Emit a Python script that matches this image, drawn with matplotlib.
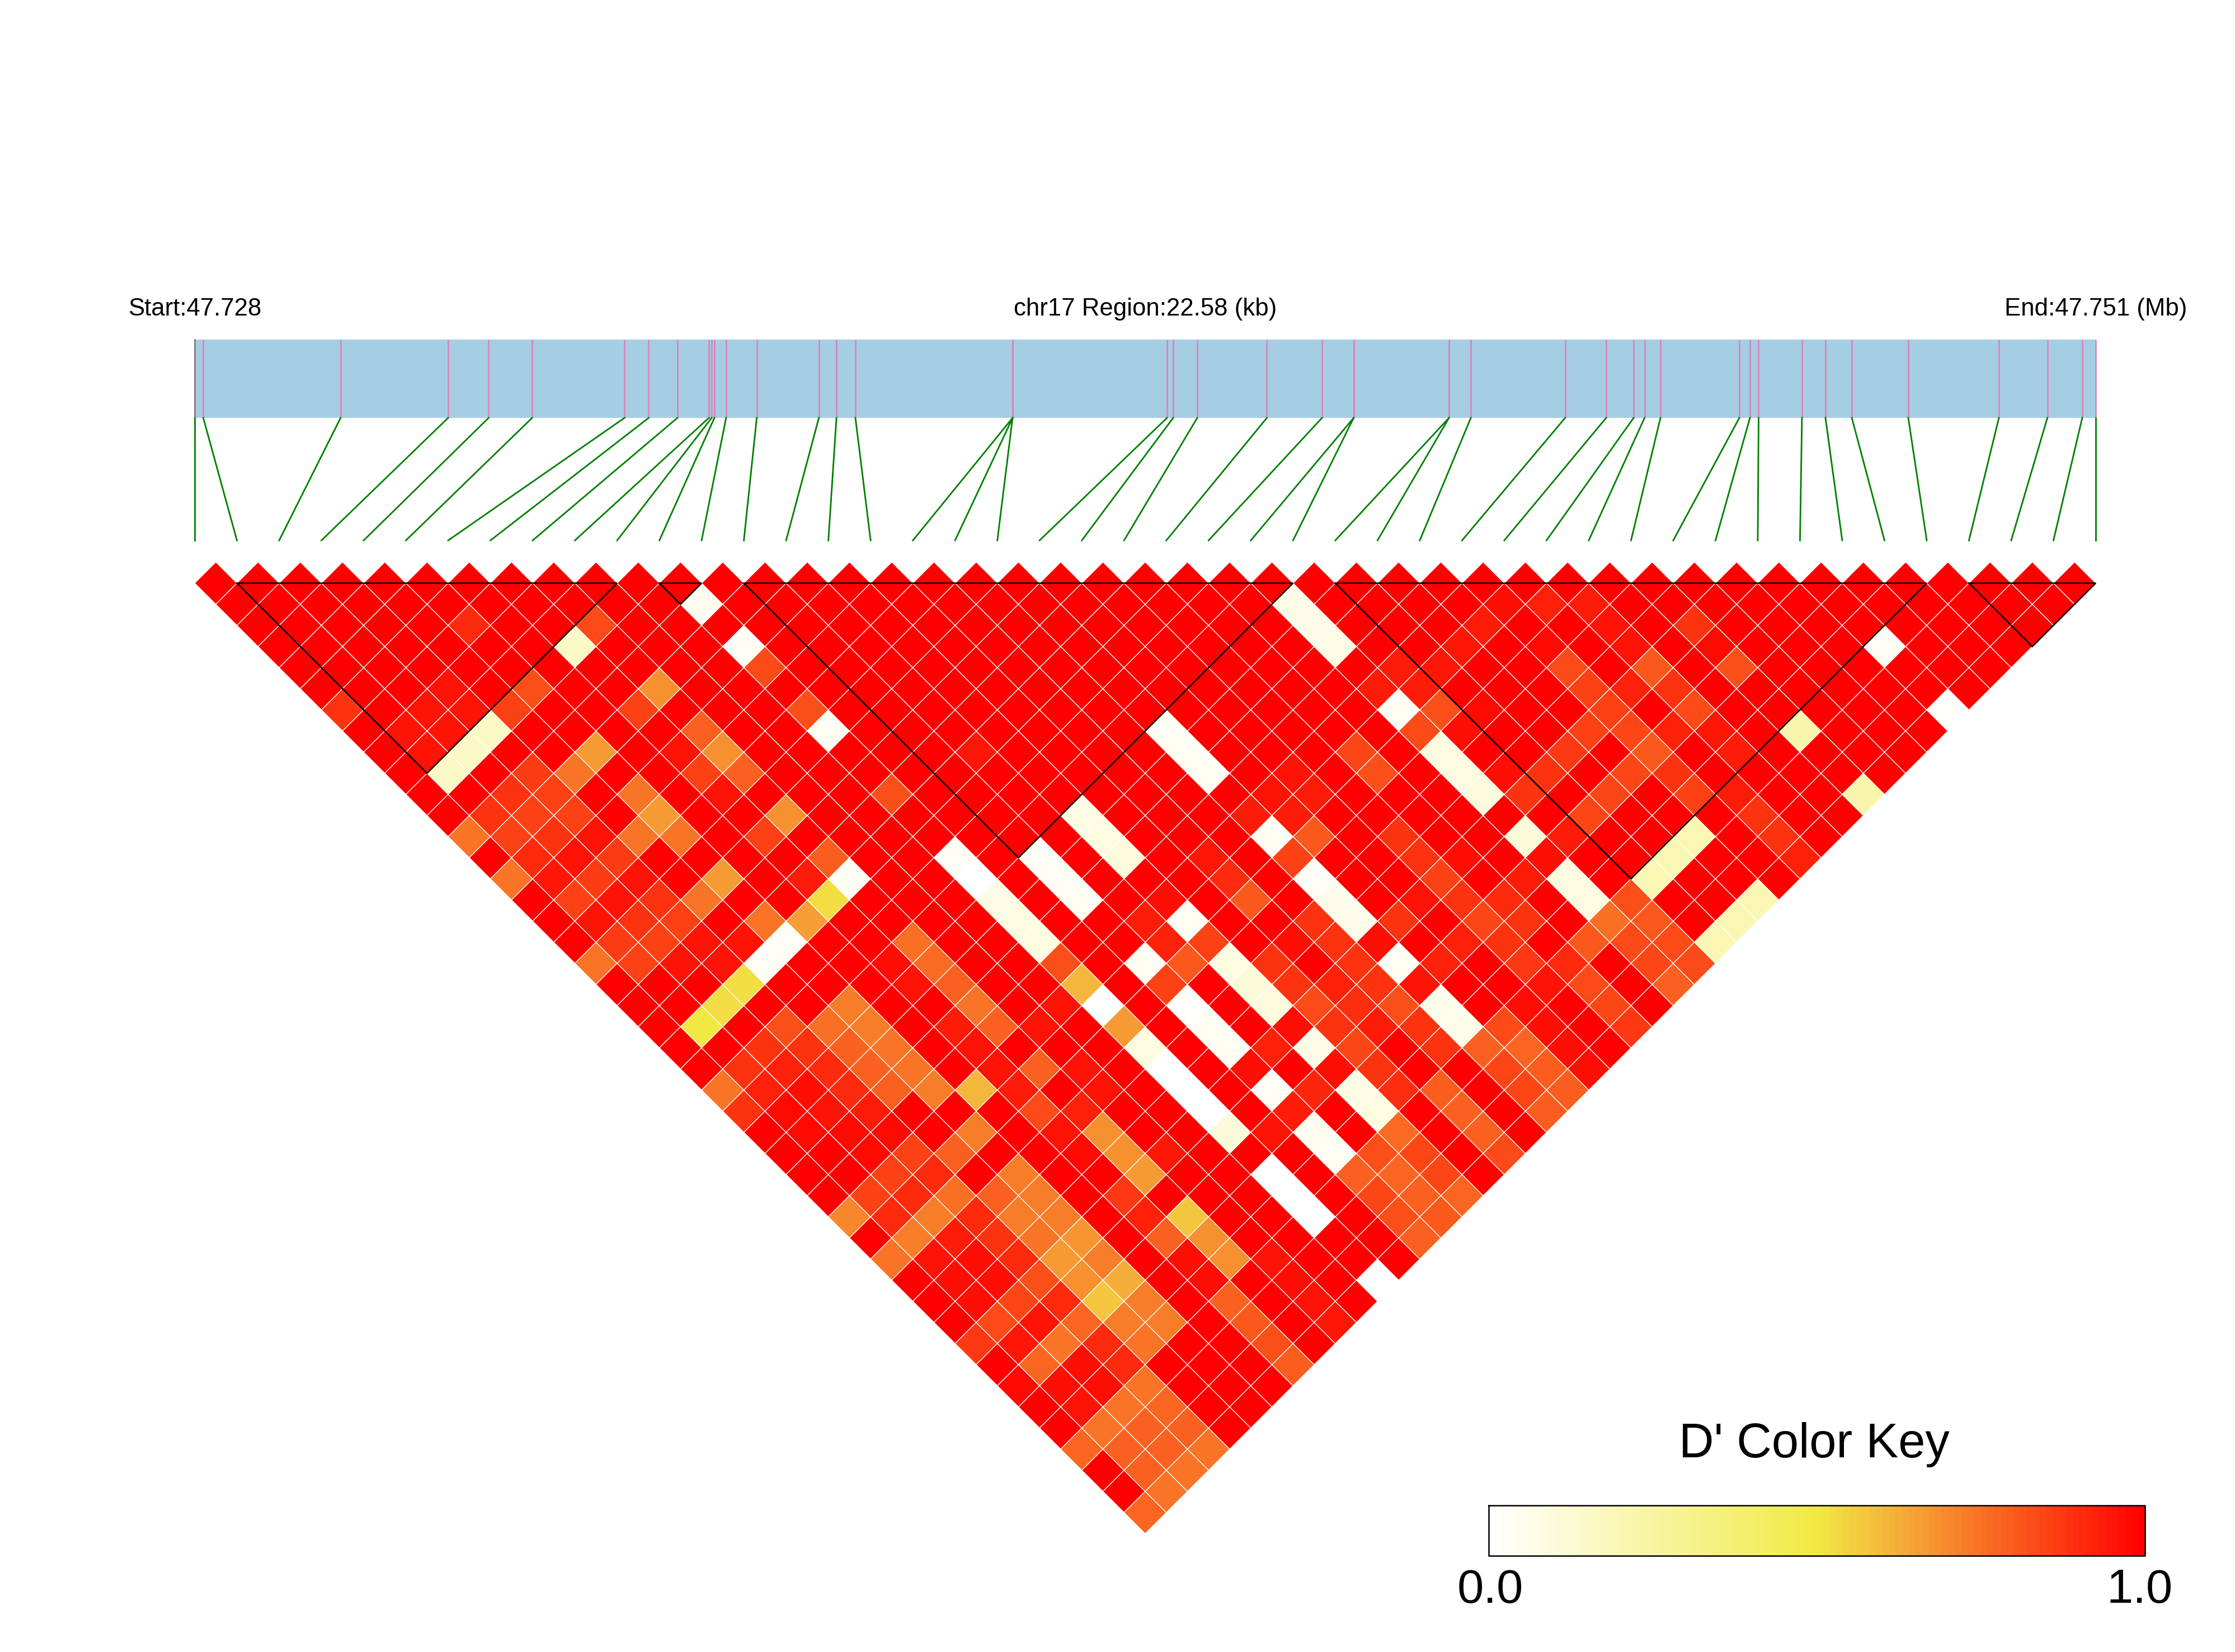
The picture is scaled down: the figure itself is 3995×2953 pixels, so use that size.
import numpy as np
from matplotlib import pyplot as plt
from matplotlib.collections import PolyCollection
from matplotlib.colors import LinearSegmentedColormap

plt.rcParams['font.family'] = ['Liberation Sans', 'DejaVu Sans']

# SNP positions along the region, kb from the start
snp_kb = [0.000, 0.102, 1.733, 3.010, 3.491, 4.008, 5.105, 5.392, 5.733, 6.107,
          6.140, 6.173, 6.312, 6.676, 7.414, 7.623, 7.848, 9.715, 9.715, 9.715,
          11.549, 11.622, 11.908, 12.735, 13.390, 13.766, 13.766, 14.898, 14.898, 15.158,
          16.278, 16.765, 17.091, 17.221, 17.410, 18.347, 18.473, 18.576, 19.091, 19.370,
          19.683, 20.354, 21.430, 22.006, 22.420, 22.580]
region_kb = 22.58

# LD blocks, first and last SNP
blocks = [(1, 10), (11, 12), (13, 26), (27, 41), (42, 45)]

# D' below 1.0 as (snp i, snp j, D'), every other pair is 1.0
upper_left = [
    (5, 8, .90), (8, 11, .83), (7, 11, .15), (11, 13, .04), (11, 15, .02), (11, 16, .83),
    (8, 14, .68), (5, 11, .82), (3, 9, .95), (2, 9, .95), (3, 10, .95), (1, 9, .95),
    (2, 10, .95), (1, 10, .95), (0, 7, .88), (4, 11, .85), (7, 14, .85), (3, 11, .15),
    (2, 11, .15), (1, 11, .15), (8, 16, .78), (7, 16, .95), (8, 17, .68), (5, 14, .66),
    (4, 14, .74), (3, 13, .86), (7, 17, .85), (8, 18, .78), (2, 13, .88), (3, 14, .85),
    (5, 16, .74), (7, 18, .95), (1, 13, .88), (2, 14, .85), (3, 15, .85), (5, 17, .66),
    (8, 20, .68), (0, 13, .74), (1, 14, .85), (2, 15, .88), (3, 16, .95), (4, 17, .74),
    (5, 18, .74), (7, 20, .85), (1, 15, .90), (2, 16, .95), (3, 17, .86), (0, 15, .74),
    (1, 16, .94), (2, 17, .86), (3, 18, .95), (5, 20, .66), (1, 17, .85), (2, 18, .95),
    (3, 19, .88), (4, 20, .74), (5, 22, .74), (1, 18, .95), (2, 19, .88), (3, 20, .85),
    (1, 19, .86), (2, 20, .85), (3, 21, .95), (5, 23, .02), (6, 23, .65),
]
lower_left = [
    (0, 19, .74), (1, 20, .85), (2, 21, .95), (3, 22, .95), (4, 23, .02), (7, 26, .96),
    (8, 27, .76), (11, 30, .82), (13, 32, .03), (4, 22, .95), (8, 26, .75), (11, 29, .08),
    (11, 28, .08), (3, 23, .52), (2, 23, .52), (1, 23, .50), (7, 27, .95), (8, 28, .78),
    (11, 31, .60), (5, 26, .72), (8, 29, .74), (10, 31, .95), (11, 32, .00), (3, 25, .82),
    (4, 26, .75), (5, 27, .72), (7, 29, .93), (8, 30, .78), (9, 31, .95), (11, 33, .66),
    (2, 25, .88), (3, 26, .88), (4, 27, .78), (5, 28, .74), (7, 30, .95), (1, 25, .88),
    (2, 26, .92), (3, 27, .90), (4, 28, .78), (5, 29, .74), (7, 31, .95), (8, 32, .78),
    (9, 33, .95), (11, 35, .00), (0, 25, .74), (1, 26, .92), (2, 27, .96), (3, 28, .90),
    (4, 29, .78), (5, 30, .72), (6, 31, .60), (7, 32, .93), (9, 34, .95), (0, 26, .88),
    (1, 27, .97), (2, 28, .95), (3, 29, .93), (7, 33, .83), (8, 34, .92), (1, 28, .97),
    (2, 29, .97), (3, 30, .97), (5, 32, .72), (7, 34, .95), (8, 35, .68), (2, 30, .97),
    (3, 31, .85), (4, 32, .78), (7, 35, .97), (8, 36, .68), (9, 37, .94), (2, 31, .85),
    (3, 32, .90), (5, 34, .72), (8, 37, .66), (1, 31, .85), (2, 32, .90), (3, 33, .75),
    (4, 34, .78), (5, 35, .72), (7, 37, .87), (0, 31, .70), (1, 32, .90), (2, 33, .72),
    (3, 34, .90), (4, 35, .72), (5, 36, .72), (7, 38, .92), (8, 39, .58),
]
bottom_tip = [
    (0, 45, .77), (1, 45, .74), (1, 44, .78), (2, 45, .74), (0, 42, .77), (1, 43, .78),
    (2, 44, .78), (3, 45, .74), (1, 42, .74), (2, 43, .78), (3, 44, .78), (1, 41, .95),
    (2, 42, .74), (3, 43, .77), (0, 39, .97), (1, 40, .96), (2, 41, .96), (3, 42, .74),
    (1, 39, .77), (2, 40, .96), (3, 41, .90), (7, 45, .79), (0, 37, .87), (1, 38, .94),
    (2, 39, .74), (3, 40, .90), (4, 41, .74), (7, 44, .82), (1, 37, .83), (2, 38, .95),
    (3, 39, .77), (4, 40, .72), (5, 41, .72), (7, 43, .80), (9, 45, .94), (1, 36, .96),
    (2, 37, .84), (3, 38, .90), (4, 39, .58), (5, 40, .72), (7, 42, .78), (9, 44, .95),
    (1, 35, .96), (2, 36, .96), (3, 37, .82), (4, 38, .68), (5, 39, .62), (7, 41, .96),
    (9, 43, .96), (0, 33, .74), (1, 34, .95), (2, 35, .96), (3, 36, .90), (4, 37, .66),
    (5, 38, .72), (7, 40, .96), (8, 41, .68), (9, 42, .95), (1, 33, .72), (2, 34, .93),
    (3, 35, .88), (4, 36, .74), (5, 37, .67), (7, 39, .78), (8, 40, .68),
]
lower_right = [
    (14, 32, .92), (15, 33, .85), (18, 36, .88), (19, 37, .96), (21, 39, .92), (22, 40, .88),
    (25, 43, .83), (26, 44, .83), (27, 45, .20), (14, 33, .80), (15, 34, .08), (16, 35, .88),
    (18, 37, .88), (19, 38, .03), (20, 39, .92), (22, 41, .87), (23, 42, .90), (25, 44, .84),
    (26, 45, .83), (13, 33, .85), (15, 35, .10), (16, 36, .88), (17, 37, .92), (18, 38, .88),
    (19, 39, .95), (22, 42, .95), (23, 43, .83), (25, 45, .78), (13, 34, .01), (15, 36, .09),
    (16, 37, .83), (17, 38, .89), (18, 39, .82), (19, 40, .05), (21, 42, .96), (23, 44, .84),
    (13, 35, .03), (15, 37, .96), (16, 38, .88), (17, 39, .93), (18, 40, .88), (19, 41, .05),
    (20, 42, .83), (21, 43, .96), (23, 45, .87), (11, 34, .08), (13, 36, .03), (14, 37, .92),
    (15, 38, .07), (16, 39, .84), (18, 41, .88), (19, 42, .78), (20, 43, .77), (21, 44, .96),
    (13, 37, .96), (15, 39, .96), (16, 40, .88), (19, 43, .84), (20, 44, .79), (21, 45, .96),
    (11, 36, .00), (13, 38, .02), (14, 39, .91), (15, 40, .07), (16, 41, .89), (17, 42, .79),
    (19, 44, .84), (20, 45, .79), (11, 37, .00), (13, 39, .93), (15, 41, .08), (17, 43, .78),
    (19, 45, .79), (11, 38, .10), (12, 39, .95), (13, 40, .04), (15, 42, .76), (17, 44, .78),
    (13, 41, .03), (14, 42, .82), (15, 43, .84), (17, 45, .83), (11, 40, .00), (13, 42, .78),
    (14, 43, .77), (15, 44, .84), (11, 41, .00), (13, 43, .84), (14, 44, .78), (15, 45, .77),
    (11, 42, .00), (13, 44, .82), (14, 45, .80), (13, 45, .78), (11, 45, .00),
]
upper_middle = [
    (25, 27, .06), (25, 28, .06), (25, 29, .07), (11, 18, .82), (11, 19, .03), (14, 23, .94),
    (11, 22, .82), (8, 22, .79), (7, 22, .93), (8, 23, .03), (7, 23, .52), (11, 25, .02),
    (11, 26, .00), (11, 27, .07), (13, 27, .02), (13, 28, .02), (13, 29, .03), (15, 27, .07),
    (15, 28, .08), (15, 29, .09), (19, 27, .03), (19, 28, .03), (19, 29, .03), (19, 32, .03),
    (20, 33, .80), (19, 33, .85), (19, 31, .93), (20, 32, .93), (20, 31, .95), (21, 32, .93),
    (21, 31, .95), (23, 32, .84), (23, 33, .82), (25, 31, .93), (25, 32, .03), (19, 34, .02),
    (19, 35, .05), (19, 36, .05), (17, 33, .80), (17, 32, .90), (17, 31, .94), (15, 31, .96),
    (14, 31, .93), (15, 32, .03), (18, 35, .88), (17, 35, .96),
]
upper_right = [
    (30, 32, .96), (31, 33, .92), (32, 34, .93), (29, 32, .93), (32, 35, .95), (34, 37, .88),
    (28, 32, .94), (30, 34, .97), (32, 36, .95), (34, 38, .97), (26, 31, .93), (27, 32, .94),
    (30, 35, .83), (32, 37, .80), (34, 39, .82), (26, 32, .93), (30, 36, .85), (31, 37, .92),
    (32, 38, .88), (26, 33, .82), (27, 34, .97), (30, 37, .85), (32, 39, .83), (25, 33, .83),
    (26, 34, .96), (29, 37, .85), (30, 38, .84), (31, 39, .92), (32, 40, .94), (34, 42, .22),
    (25, 34, .08), (28, 37, .87), (30, 39, .80), (32, 41, .93), (25, 35, .08), (27, 37, .88),
    (29, 39, .84), (30, 40, .88), (25, 36, .09), (26, 37, .88), (28, 39, .84), (30, 41, .85),
    (31, 42, .93), (34, 45, .22), (26, 36, .96), (27, 39, .84), (31, 43, .88), (22, 35, .88),
    (25, 38, .10), (26, 39, .93), (29, 42, .20), (31, 44, .88), (22, 36, .88), (23, 37, .96),
    (25, 39, .96), (28, 42, .20), (31, 45, .92), (22, 37, .85), (24, 39, .93), (25, 40, .08),
    (27, 42, .20), (21, 37, .95), (22, 38, .88), (23, 39, .90), (25, 41, .08), (26, 42, .82),
    (29, 45, .20), (20, 37, .88), (22, 39, .84), (23, 40, .88), (25, 42, .75), (26, 43, .80),
    (28, 45, .20), (24, 42, .80), (38, 42, .02), (38, 45, .01),
]

# key colours of the D' ramp
ramp_pos = [0.0, 0.50, 0.62, 0.72, 0.85, 1.0]
ramp_col = ['#FFFFFF', '#F1EA44', '#F5B03A', '#F8802A', '#FC4516', '#FF0000']

cmap = LinearSegmentedColormap.from_list('dprime', list(zip(ramp_pos, ramp_col)), N=100)

n = len(snp_kb)
dprime = np.ones((n, n))
for i, j, v in upper_left + lower_left + bottom_tip + lower_right + upper_middle + upper_right:
    dprime[i, j] = v

# layout, in pixels of the saved picture
left, right = 348, 3746
half = (right - left) / (n - 1) / 2
top = 1004.65

fig = plt.figure(figsize=(3995.01 / 300, 2953.01 / 300), dpi=300)
ax = fig.add_axes([0, 0, 1, 1])
ax.set_xlim(0, 3995)
ax.set_ylim(2953, 0)
ax.axis('off')

# gene bar with the SNP ticks
x_snp = [left + k / region_kb * (right - left) for k in snp_kb]
ax.fill_between([left, right], 607, 747, color='#A6CEE3', lw=0)
ax.vlines(x_snp, 607, 747, color='#E07FB8', lw=0.62)
ax.plot([left, left], [607, 747], color='#808080', lw=0.62)

# connectors from the bar down to the heatmap
for k in range(n):
    ax.plot([x_snp[k], left + k * 2 * half], [747, 966], color='#008000', lw=0.68)

# heatmap cells, one diamond for each SNP pair
cells = []
vals = []
for i in range(n):
    for j in range(i + 1, n):
        cx = left + (i + j) * half
        cy = top + (j - i) * half
        cells.append([(cx - half, cy), (cx, cy - half), (cx + half, cy), (cx, cy + half)])
        vals.append(dprime[i, j])
pc = PolyCollection(cells, array=np.array(vals), cmap=cmap, clim=(0, 1),
                    edgecolor='white', linewidth=0.3)
ax.add_collection(pc)

# block outlines
for a, b in blocks:
    ya = top + half
    xs = [left + a * 2 * half, left + b * 2 * half, left + (a + b) * half, left + a * 2 * half]
    ys = [ya, ya, top + (b - a + 1) * half, ya]
    ax.plot(xs, ys, color='black', lw=0.6, solid_joinstyle='miter')

# region labels
ax.text(left, 564, 'Start:47.728', fontsize=10.5, ha='center', va='baseline')
ax.text((left + right) / 2, 564, 'chr17 Region:22.58 (kb)', fontsize=10.5, ha='center', va='baseline')
ax.text(right, 564, 'End:47.751 (Mb)', fontsize=10.5, ha='center', va='baseline')

# colour key
key_x = np.linspace(2661, 3834, 101)
key_v = (np.arange(100) + 0.5) / 100
ax.pcolormesh(key_x, [2691, 2781], key_v[np.newaxis, :], cmap=cmap, vmin=0, vmax=1, lw=0)
ax.plot([2661, 3834, 3834, 2661, 2661], [2691, 2691, 2781, 2781, 2691], color='black', lw=0.6)
ax.text(3243, 2605, "D' Color Key", fontsize=20.8, ha='center', va='baseline')
ax.text(2664, 2865, '0.0', fontsize=20.4, ha='center', va='baseline')
ax.text(3825, 2865, '1.0', fontsize=20.4, ha='center', va='baseline')

fig.savefig('out.png', dpi=300, facecolor='white')
